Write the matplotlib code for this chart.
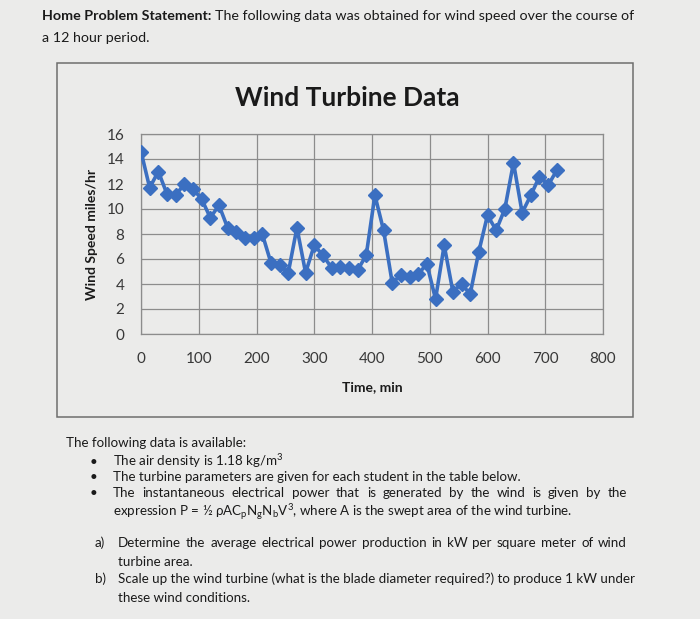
import matplotlib
matplotlib.use("Agg")
import matplotlib.pyplot as plt
from matplotlib.patches import Rectangle

plt.rcParams['font.family'] = ['Lato', 'DejaVu Sans']
plt.rcParams['mathtext.fontset'] = 'custom'
plt.rcParams['mathtext.rm'] = 'Lato'
plt.rcParams['mathtext.it'] = 'Lato:italic'
plt.rcParams['mathtext.bf'] = 'Lato:bold'

# ---- data ----
time_min = list(range(0, 721, 15))
wind_speed = [14.6, 11.7, 13.0, 11.2, 11.1, 12.0, 11.6, 10.8, 9.3, 10.3,
              8.5, 8.2, 7.7, 7.7, 8.0, 5.7, 5.5, 4.9, 8.5, 4.9,
              7.1, 6.3, 5.3, 5.4, 5.3, 5.1, 6.3, 11.1, 8.3, 4.1,
              4.7, 4.6, 4.8, 5.6, 2.8, 7.1, 3.4, 4.0, 3.2, 6.6,
              9.5, 8.3, 10.0, 13.7, 9.7, 11.1, 12.6, 11.9, 13.1]
x_ticks = [0, 100, 200, 300, 400, 500, 600, 700, 800]
y_ticks = [0, 2, 4, 6, 8, 10, 12, 14, 16]

W, H = 700, 619
BG = '#ebebea'
TXT = '#1a1a1a'
fig = plt.figure(figsize=(W / 100, H / 100), dpi=100, facecolor=BG)
renderer = fig.canvas.get_renderer()

def fx(px):
    return px / W

def fy(py):
    return 1 - py / H

def justify(x0, x1, y, s, fs):
    words = s.split(' ')
    objs = [fig.text(0, fy(y), w, fontsize=fs, color=TXT, va='baseline') for w in words]
    widths = [o.get_window_extent(renderer).width for o in objs]
    gap = (x1 - x0 - sum(widths)) / (len(words) - 1)
    x = x0
    for o, w in zip(objs, widths):
        o.set_x(fx(x))
        x += w + gap

FS = 10.3

# header text
t1 = fig.text(fx(42), fy(20), 'Home Problem Statement:', fontsize=FS,
              fontweight='bold', color=TXT, va='baseline')
bb = t1.get_window_extent(renderer)
fig.text(bb.x1 / W + fx(4), fy(20),
         'The following data was obtained for wind speed over the course of',
         fontsize=FS, color=TXT, va='baseline')
fig.text(fx(42), fy(42), 'a 12 hour period.', fontsize=FS, color=TXT, va='baseline')

# chart frame
fig.patches.append(Rectangle((fx(57), fy(417)), fx(633) - fx(57), fy(63) - fy(417),
                             transform=fig.transFigure, fill=False,
                             edgecolor='#6e6e6e', linewidth=1.1))

fig.text(fx(347), fy(98), 'Wind Turbine Data', fontsize=19, fontweight='bold',
         color=TXT, ha='center', va='center')

ax = fig.add_axes([fx(141), fy(334), fx(603) - fx(141), fy(134) - fy(334)])
ax.set_facecolor(BG)
ax.plot(time_min, wind_speed, color='#3b6fc1', linewidth=2.6,
        marker='D', markersize=6.8, markerfacecolor='#3b6fc1',
        markeredgecolor='#3b6fc1', zorder=3)
ax.set_xlim(0, 800)
ax.set_ylim(0, 16)
ax.set_xticks(x_ticks)
ax.set_yticks(y_ticks)
ax.grid(True, color='#8c8c8c', linewidth=0.9)
ax.set_axisbelow(True)
for s in ax.spines.values():
    s.set_color('#8c8c8c')
    s.set_linewidth(0.9)
ax.tick_params(length=0, labelsize=11, labelcolor='#383838')
ax.tick_params(axis='x', pad=13)
ax.tick_params(axis='y', pad=12)
ax.set_xlabel('Time, min', fontsize=10, fontweight='bold', color=TXT, labelpad=11)
ax.set_ylabel('Wind Speed miles/hr', fontsize=10, fontweight='bold', color=TXT,
              labelpad=6)

# lower text
FS2 = 9.6
fig.text(fx(66), fy(447), 'The following data is available:', fontsize=FS2,
         color=TXT, va='baseline')
for y in (466, 481, 497):
    fig.text(fx(90), fy(y), '•', fontsize=FS2, color=TXT, va='baseline')
fig.text(fx(113), fy(466), 'The air density is 1.18 kg/m$^3$', fontsize=FS2,
         color=TXT, va='baseline')
fig.text(fx(113), fy(481),
         'The turbine parameters are given for each student in the table below.',
         fontsize=FS2, color=TXT, va='baseline')
justify(113, 627, 497,
        'The instantaneous electrical power that is generated by the wind is given by the',
        FS2)
fig.text(fx(113), fy(517),
         'expression P = ½ ρA$\\mathrm{C_pN_gN_bV^3}$, where A is the swept area of the wind turbine.',
         fontsize=FS2, color=TXT, va='baseline')
fig.text(fx(95), fy(547), 'a)', fontsize=FS2, color=TXT, va='baseline')
justify(118, 627, 547,
        'Determine the average electrical power production in kW per square meter of wind',
        FS2)
fig.text(fx(118), fy(566), 'turbine area.', fontsize=FS2, color=TXT, va='baseline')
fig.text(fx(95), fy(583), 'b)', fontsize=FS2, color=TXT, va='baseline')
fig.text(fx(118), fy(583),
         'Scale up the wind turbine (what is the blade diameter required?) to produce 1 kW under',
         fontsize=FS2, color=TXT, va='baseline')
fig.text(fx(118), fy(602), 'these wind conditions.', fontsize=FS2, color=TXT, va='baseline')

fig.savefig('out.png', dpi=100, facecolor=BG)
